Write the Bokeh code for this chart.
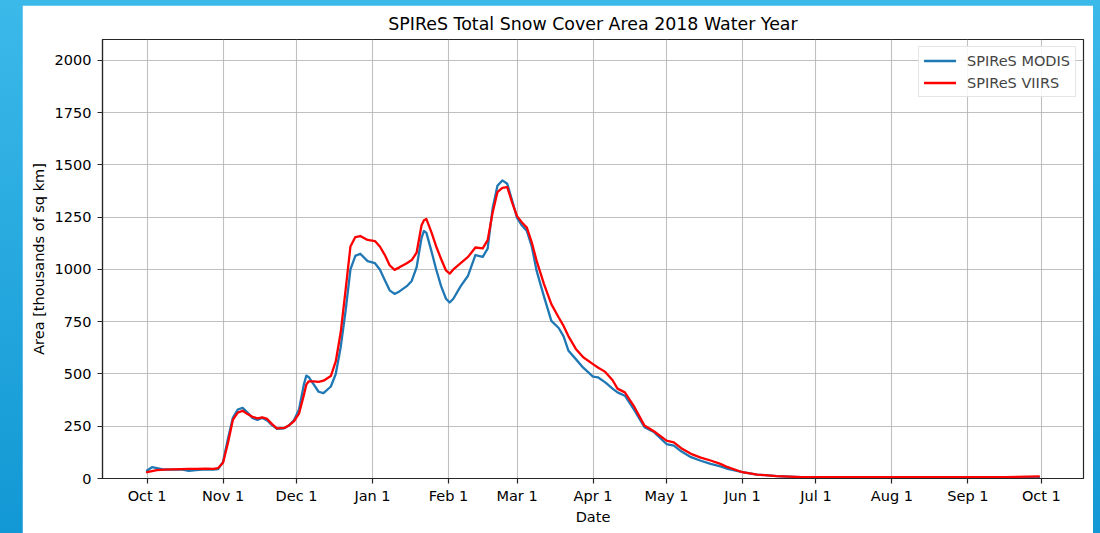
from bokeh.plotting import figure
from bokeh.models import FixedTicker, Range1d, Legend, LegendItem, Spacer, ColumnDataSource
from bokeh.layouts import row, column
from bokeh.embed import file_html
from bokeh.resources import INLINE

# ---- data (days since Oct 1, 2017; area in thousands of sq km) ----
tick_days = [0, 31, 61, 92, 123, 151, 182, 212, 243, 273, 304, 335, 365]
tick_labels = ["Oct 1", "Nov 1", "Dec 1", "Jan 1", "Feb 1", "Mar 1", "Apr 1",
               "May 1", "Jun 1", "Jul 1", "Aug 1", "Sep 1", "Oct 1"]
y_ticks = [0, 250, 500, 750, 1000, 1250, 1500, 1750, 2000]

days = [0, 2, 4, 7, 10, 14, 17, 20, 24, 27, 29, 31, 33, 35, 37, 39, 41, 43, 45, 47,
        49, 51, 53, 56, 58, 60, 62, 64, 65, 66, 68, 70, 72, 75, 77, 79, 81, 83, 85, 87,
        90, 93, 95, 97, 99, 101, 103, 106, 108, 110, 112, 113, 114, 116, 118, 120, 122, 123.5,
        125, 128, 131, 134, 137, 139, 141, 143, 145, 147, 149, 151, 153, 155, 157, 159,
        162, 165, 168, 170, 172, 175, 178, 182, 184, 187, 190, 192, 195, 199, 203, 207,
        212, 215, 218, 222, 226, 230, 234, 237, 243, 249, 257, 267, 290, 320, 350, 364]
modis = [38, 54, 50, 43, 42, 44, 37, 40, 44, 42, 45, 80, 190, 290, 330, 338, 315, 290, 280, 290,
         278, 255, 237, 240, 255, 280, 330, 450, 492, 485, 450, 415, 408, 440, 500, 627, 800, 1000, 1065, 1075,
         1040, 1030, 1000, 950, 900, 883, 895, 920, 945, 1010, 1150, 1184, 1175, 1090, 1000, 920, 860, 842,
         860, 920, 970, 1069, 1060, 1100, 1290, 1400, 1426, 1410, 1330, 1247, 1210, 1184, 1110, 993,
         870, 754, 720, 680, 611, 571, 530, 487, 484, 460, 430, 412, 396, 325, 245, 221,
         165, 157, 130, 102, 85, 70, 58, 46, 30, 19, 11, 6, 5, 5, 5, 5]
viirs = [30, 35, 40, 42, 44, 45, 46, 46, 47, 46, 50, 75, 170, 280, 315, 324, 308, 295, 288, 292,
         285, 260, 240, 242, 255, 275, 310, 400, 450, 465, 465, 462, 468, 490, 560, 697, 900, 1110, 1155, 1160,
         1141, 1136, 1110, 1070, 1020, 998, 1010, 1030, 1045, 1080, 1210, 1235, 1241, 1180, 1110, 1050, 995, 980,
         1000, 1030, 1060, 1105, 1101, 1140, 1270, 1370, 1390, 1394, 1320, 1255, 1225, 1200, 1130, 1041,
         930, 834, 770, 730, 680, 620, 580, 547, 531, 510, 470, 430, 412, 340, 253, 225,
         181, 173, 145, 118, 100, 86, 70, 54, 30, 19, 11, 7, 6, 6, 6, 10]

FONT = "DejaVu Sans"

src = ColumnDataSource(dict(day=days, modis=modis, viirs=viirs))

p = figure(frame_width=981, frame_height=439,
           x_range=Range1d(-18.2, 382.2), y_range=Range1d(0, 2100),
           output_backend="svg", toolbar_location=None,
           min_border_left=80, min_border_right=10, min_border_top=34, min_border_bottom=55,
           title="SPIReS Total Snow Cover Area 2018 Water Year")

p.title.text_font = FONT
p.title.text_font_size = "17.4px"
p.title.text_font_style = "normal"
p.title.text_color = "#000000"
p.title.align = "center"
p.title.standoff = 12

p.background_fill_color = "white"
p.border_fill_color = "white"
p.outline_line_color = "#262626"
p.outline_line_width = 1.2

r1 = p.line("day", "modis", source=src, line_color="#1f77b4", line_width=2.3,
            line_join="round", line_cap="round")
r2 = p.line("day", "viirs", source=src, line_color="#ff0000", line_width=2.3,
            line_join="round", line_cap="round")

p.xaxis.ticker = FixedTicker(ticks=tick_days)
p.xaxis.major_label_overrides = {d: l for d, l in zip(tick_days, tick_labels)}
p.yaxis.ticker = FixedTicker(ticks=y_ticks)
p.xaxis.axis_label = "Date"
p.yaxis.axis_label = "Area [thousands of sq km]"

for ax in (p.xaxis[0], p.yaxis[0]):
    ax.axis_label_text_font = FONT
    ax.axis_label_text_font_size = "14.5px"
    ax.axis_label_text_font_style = "normal"
    ax.axis_label_text_color = "#000000"
    ax.major_label_text_font = FONT
    ax.major_label_text_font_size = "14.5px"
    ax.major_label_text_color = "#000000"
    ax.major_tick_in = 0
    ax.major_tick_out = 5
    ax.major_tick_line_color = "#262626"
    ax.major_tick_line_width = 1.2
    ax.minor_tick_line_color = None
    ax.axis_line_color = "#262626"
    ax.axis_line_width = 1.2

p.xaxis.major_label_standoff = 4
p.xaxis.axis_label_standoff = 2
p.yaxis.major_label_standoff = 6
p.yaxis.axis_label_standoff = 5

p.grid.grid_line_color = "#b0b0b0"
p.grid.grid_line_alpha = 0.8
p.grid.grid_line_width = 1.1

legend = Legend(items=[LegendItem(label="SPIReS MODIS", renderers=[r1]),
                       LegendItem(label="SPIReS VIIRS", renderers=[r2])],
                location="top_right", margin=7, padding=5, spacing=5,
                label_height=17, glyph_height=17, glyph_width=32, label_standoff=11,
                label_text_font=FONT, label_text_font_size="14.5px",
                border_line_color="#cccccc", border_line_width=1,
                background_fill_color="white", background_fill_alpha=0.85)
p.add_layout(legend)

root = column(Spacer(width=1100, height=5),
              row(Spacer(width=22, height=528), p),
              spacing=0)

html = file_html(root, INLINE)
css = ("<style>html, body { background: linear-gradient(to bottom, #3BB9E9, #1298D4) !important; "
       "overflow: hidden !important; }</style>")
html = html.replace("</head>", css + "</head>", 1)
open("out.html", "w").write(html)
